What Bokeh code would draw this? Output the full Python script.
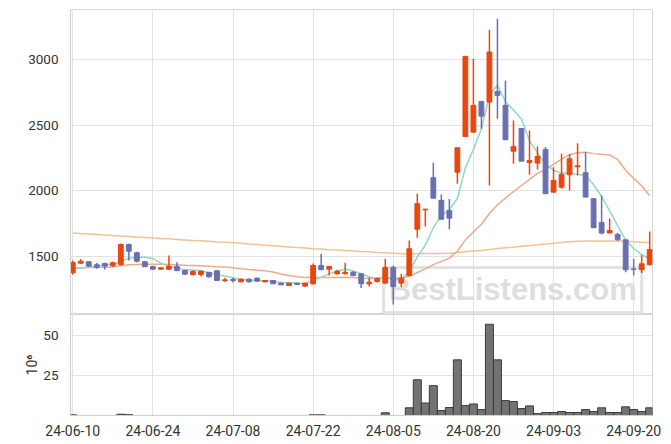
import numpy as np
import pandas as pd
from bokeh.plotting import figure
from bokeh.layouts import column
from bokeh.models import ColumnDataSource, Range1d, FixedTicker, Label
from bokeh.embed import file_html
from bokeh.resources import INLINE

# ---------------- data ----------------
holidays = ["2024-08-15", "2024-09-16", "2024-09-17", "2024-09-18"]
dates = [d for d in pd.bdate_range("2024-06-10", "2024-09-24")
         if d.strftime("%Y-%m-%d") not in holidays]

opens = [1376, 1449, 1460, 1437, 1447, 1429, 1439, 1591, 1528, 1460,
         1424, 1403, 1403, 1424, 1393, 1361, 1363, 1378, 1391, 1315,
         1324, 1307, 1327, 1335, 1307, 1317, 1297, 1279, 1297, 1274,
         1292, 1431, 1403, 1368, 1368, 1380, 1368, 1292, 1310, 1297,
         1416, 1297, 1355, 1708, 1855, 2100, 1927, 1851, 2142, 2414,
         2447, 2681, 2676, 2757, 2651, 2302, 2475, 2216, 2211, 2315,
         1990, 2028, 2123, 2183, 2138, 1940, 1759, 1678, 1668, 1627,
         1405, 1399, 1437]
highs = [1470, 1479, 1464, 1452, 1452, 1460, 1599, 1599, 1536, 1463,
         1426, 1418, 1508, 1456, 1398, 1393, 1393, 1383, 1393, 1338,
         1338, 1333, 1333, 1340, 1320, 1320, 1300, 1300, 1300, 1300,
         1446, 1520, 1424, 1398, 1452, 1388, 1373, 1340, 1340, 1482,
         1431, 1368, 1622, 1978, 1863, 2214, 1972, 1937, 2330, 3024,
         3006, 2681, 3227, 3311, 2841, 2536, 2475, 2460, 2338, 2333,
         2180, 2283, 2280, 2363, 2295, 1940, 1965, 1790, 1680, 1627,
         1482, 1510, 1690]
lows = [1363, 1444, 1424, 1406, 1401, 1421, 1431, 1470, 1454, 1420,
        1401, 1401, 1401, 1388, 1360, 1356, 1348, 1340, 1317, 1307,
        1302, 1304, 1302, 1309, 1304, 1290, 1282, 1276, 1284, 1271,
        1287, 1399, 1355, 1363, 1363, 1350, 1259, 1271, 1302, 1292,
        1134, 1266, 1348, 1642, 1729, 1944, 1784, 1708, 2054, 2414,
        2447, 2473, 2041, 2549, 2389, 2206, 2226, 2123, 2163, 1978,
        1990, 2016, 2003, 2117, 1952, 1719, 1670, 1678, 1620, 1380,
        1355, 1375, 1431]
closes = [1454, 1464, 1426, 1418, 1426, 1452, 1591, 1540, 1464, 1422,
          1403, 1414, 1424, 1393, 1365, 1386, 1388, 1345, 1317, 1322,
          1317, 1327, 1307, 1312, 1317, 1292, 1284, 1297, 1287, 1297,
          1431, 1399, 1424, 1388, 1380, 1355, 1292, 1304, 1332, 1416,
          1271, 1335, 1559, 1902, 1860, 1944, 1784, 1792, 2328, 3024,
          2651, 2569, 3057, 2727, 2389, 2338, 2226, 2231, 2262, 1978,
          2079, 2125, 2244, 2191, 1952, 1719, 1678, 1698, 1627, 1399,
          1401, 1444, 1553]
# closes of the 19 sessions before the window (estimated, used for the moving averages)
prior_closes = [1395, 1410, 1402, 1388, 1405, 1398, 1412, 1396, 1404, 1396,
                1425, 1440, 1448, 1436, 1435, 1434, 1396, 1388, 1358]
# long moving average
ma_long = [1678, 1674, 1671, 1667, 1663, 1660, 1656, 1652, 1648, 1645,
           1641, 1637, 1634, 1630, 1626, 1622, 1619, 1615, 1611, 1608,
           1604, 1600, 1595, 1591, 1586, 1582, 1577, 1573, 1568, 1564,
           1559, 1556, 1552, 1549, 1545, 1542, 1538, 1535, 1531, 1528,
           1524, 1521, 1521, 1521, 1522, 1522, 1523, 1525, 1530, 1536,
           1541, 1546, 1553, 1560, 1566, 1571, 1577, 1583, 1589, 1595,
           1601, 1607, 1612, 1616, 1617, 1618, 1618, 1618, 1617, 1615,
           1612, 1608, 1604]
# volume in millions
volumes = [0.4, 0, 0, 0, 0, 0, 0.8, 0.5, 0, 0,
           0, 0, 0, 0, 0, 0, 0, 0, 0, 0,
           0, 0, 0, 0, 0, 0, 0, 0, 0, 0,
           0.4, 0.4, 0, 0, 0, 0, 0, 0, 0, 1.7,
           0, 0, 4.8, 22.3, 7.8, 18.6, 3.1, 5.0, 34.7, 6.2,
           7.2, 3.7, 56.9, 34.7, 9.3, 8.7, 4.3, 6.0, 1.2, 1.9,
           1.9, 2.5, 1.9, 1.9, 3.7, 2.5, 4.8, 1.9, 1.9, 5.4,
           3.7, 2.5, 4.8]

price_ticks = [1500, 2000, 2500, 3000]
vol_ticks = [25, 50]
tick_idx = list(range(0, len(dates), 10))
tick_labels = {i: dates[i].strftime("%y-%m-%d") for i in tick_idx}

# ---------------- derived ----------------
idx = np.arange(len(dates))
o = np.array(opens, float); h = np.array(highs, float)
l = np.array(lows, float); c = np.array(closes, float)
allc = pd.Series(prior_closes + closes, dtype=float)
n0 = len(prior_closes)
ma5 = allc.rolling(5).mean().values[n0:]
ma20 = allc.rolling(20).mean().values[n0:]

RED = "#e8470f"
BLUE = "#6a6fb0"
GREEN = "#8fdbbf"
SALMON = "#eeaa8a"
PEACH = "#f1c293"
GRID = "#e2e2e2"
AX = "#cfcfcf"
TXT = "#333333"
FONT = "Roboto"

xr = Range1d(-0.28, 72.35)

p = figure(width=663, height=314, x_range=xr, y_range=Range1d(1058, 3381),
           output_backend="svg", toolbar_location=None, x_axis_location=None,
           min_border_left=70, min_border_right=11, min_border_top=9, min_border_bottom=0)

wm = Label(x=54.9, y=1245, text="BestListens.com", text_font="Liberation Sans",
           text_font_style="bold", text_font_size="31px", text_color="#dedede",
           text_align="center", text_baseline="middle",
           border_line_color="#e2e2e2", border_line_width=3, padding=5, level="underlay")
p.add_layout(wm)

p.line(idx, ma_long, color=PEACH, line_width=1.5)
p.line(idx, ma20, color=SALMON, line_width=1.5)
p.line(idx, ma5, color=GREEN, line_width=1.5)

up = c >= o
for mask, col in ((up, RED), (~up, BLUE)):
    src = ColumnDataSource(dict(x=idx[mask], hi=h[mask], lo=l[mask],
                                top=np.maximum(o, c)[mask], bot=np.minimum(o, c)[mask]))
    p.segment(x0="x", y0="hi", x1="x", y1="lo", source=src, line_color=col, line_width=1.5)
    p.vbar(x="x", width=0.6, top="top", bottom="bot", source=src,
           fill_color=col, line_color=col, line_width=1)

p.yaxis.ticker = FixedTicker(ticks=price_ticks)
p.xgrid.ticker = FixedTicker(ticks=tick_idx)

v = figure(width=663, height=129, x_range=xr, y_range=Range1d(0, 63),
           output_backend="svg", toolbar_location=None,
           min_border_left=70, min_border_right=11, min_border_top=0, min_border_bottom=28)
v.vbar(x=idx, top=volumes, width=1.0, fill_color="#737373", line_color="#3c3c3c", line_width=1)
v.yaxis.ticker = FixedTicker(ticks=vol_ticks)
v.xaxis.ticker = FixedTicker(ticks=tick_idx)
v.xaxis.major_label_overrides = tick_labels
v.yaxis.axis_label = "10\u2076"
v.yaxis.axis_label_text_font_style = "normal"
v.yaxis.axis_label_text_font_size = "14px"
v.yaxis.axis_label_text_font = FONT
v.yaxis.axis_label_text_color = TXT
v.yaxis.axis_label_standoff = 0

for fig in (p, v):
    fig.outline_line_color = "#d6d6d6"
    fig.grid.grid_line_color = GRID
    fig.background_fill_color = "white"
    fig.border_fill_color = "white"
    for ax in fig.axis:
        ax.axis_line_color = AX
        ax.major_tick_line_color = None
        ax.minor_tick_line_color = None
        ax.major_label_text_font = FONT
        ax.major_label_text_color = TXT
        ax.major_label_text_font_size = "13.5px"
        ax.major_label_standoff = 6
v.xaxis.major_label_text_font_size = "14px"
v.xaxis.major_label_standoff = 3

layout = column(p, v, spacing=0)
open("out.html", "w").write(file_html(layout, INLINE))
